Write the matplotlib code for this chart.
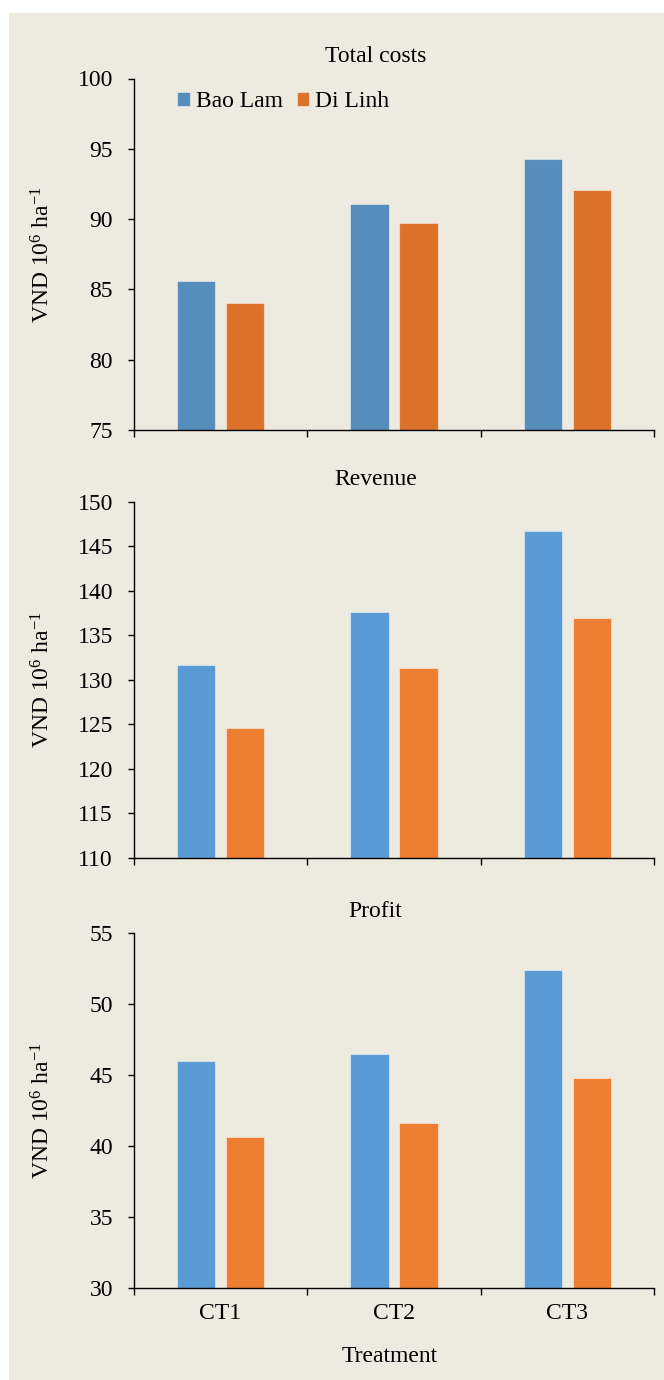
import matplotlib
matplotlib.use("Agg")
import matplotlib.pyplot as plt
from matplotlib.patches import Rectangle
import numpy as np

plt.rcParams['font.family'] = ['Liberation Serif', 'DejaVu Serif']
plt.rcParams['mathtext.fontset'] = 'custom'
plt.rcParams['mathtext.rm'] = 'Liberation Serif'
plt.rcParams['mathtext.it'] = 'Liberation Serif:italic'

# ---- data ----
treatments = ["CT1", "CT2", "CT3"]
series = ["Bao Lam", "Di Linh"]
total_costs_bao_lam = [85.6, 91.1, 94.3]
total_costs_di_linh = [84.0, 89.7, 92.1]
revenue_bao_lam = [131.6, 137.6, 146.7]
revenue_di_linh = [124.6, 131.3, 136.9]
profit_bao_lam = [46.0, 46.5, 52.4]
profit_di_linh = [40.6, 41.6, 44.8]
panel_titles = ["Total costs", "Revenue", "Profit"]
y_ranges = [(75, 100), (110, 150), (30, 55)]
y_label = "VND 10$^{\\mathrm{6}}$ ha$^{\\mathrm{-1}}$"
x_label = "Treatment"

W, H = 664, 1380
DPI = 100
FS = 17
fig = plt.figure(figsize=(W / DPI, H / DPI), dpi=DPI, facecolor="white")
BG = "#EDEADF"
fig.patches.append(Rectangle((9 / W, 0), 1 - 9 / W, 1 - 13 / H, transform=fig.transFigure,
                             facecolor=BG, edgecolor="none", zorder=-10))

colors = [("#568DBD", "#DC722A"), ("#5B9BD5", "#ED7D31"), ("#5B9BD5", "#ED7D31")]
data = [(total_costs_bao_lam, total_costs_di_linh),
        (revenue_bao_lam, revenue_di_linh),
        (profit_bao_lam, profit_di_linh)]
# axes pixel boxes: (top, bottom)
boxes = [(78.5, 430.0), (501.7, 857.7), (933.3, 1287.7)]
title_gap = [16.2, 16.7, 16.7]
left_px, right_px = 133.5, 654.3
title_cx = 375.5
xlabel_cx = 390.0

x = np.arange(1, len(treatments) + 1)
bw = 0.222
off = 0.141

for i, ((top, bot), (b, o), (cb, co), (ymin, ymax), title) in enumerate(
        zip(boxes, data, colors, y_ranges, panel_titles)):
    ax = fig.add_axes([left_px / W, 1 - bot / H, (right_px - left_px) / W, (bot - top) / H])
    ax.set_zorder(1)
    ax.set_facecolor("none")
    ax.bar(x - off, b, width=bw, color=cb, edgecolor=(1, 1, 1, 0.45), linewidth=0.8,
           label=series[0], zorder=2)
    ax.bar(x + off, o, width=bw, color=co, edgecolor=(1, 1, 1, 0.45), linewidth=0.8,
           label=series[1], zorder=2)
    ax.set_ylim(ymin, ymax)
    ax.set_xlim(0.5, len(treatments) + 0.5)
    ax.set_yticks(np.arange(ymin, ymax + 0.1, 5))
    ax.set_xticks(np.arange(0.5, len(treatments) + 1, 1.0))
    ax.set_xticklabels([])
    ax.set_xticks(x, minor=True)
    if i == 2:
        ax.set_xticklabels(treatments, minor=True)
    else:
        ax.set_xticklabels([], minor=True)
    for s in ("top", "right"):
        ax.spines[s].set_visible(False)
    for s in ("left", "bottom"):
        ax.spines[s].set_linewidth(1.0)
        ax.spines[s].set_color("black")
    ax.tick_params(axis="y", direction="out", length=4.3, width=1.0, labelsize=FS, pad=10.5)
    ax.tick_params(axis="x", which="major", direction="out", length=5, width=1.0)
    ax.tick_params(axis="x", which="minor", length=0, labelsize=FS, pad=11)
    fig.text(title_cx / W, 1 - (top - title_gap[i]) / H, title, ha="center",
             va="baseline", fontsize=FS)
    fig.text(43 / W, 1 - (top + bot) / 2 / H, y_label, rotation=90, ha="center", va="center",
             fontsize=FS)
    if i == 0:
        ax.legend(loc="center left", bbox_to_anchor=(0.084, 0.9345), frameon=False,
                  ncol=2, fontsize=FS, handlelength=0.53, handleheight=0.53,
                  handletextpad=0.25, columnspacing=0.6, borderpad=0, borderaxespad=0)

fig.text(xlabel_cx / W, 1 - 1362.5 / H, x_label, ha="center", va="baseline",
         fontsize=FS)

fig.savefig("out.png", dpi=DPI, facecolor="white")
